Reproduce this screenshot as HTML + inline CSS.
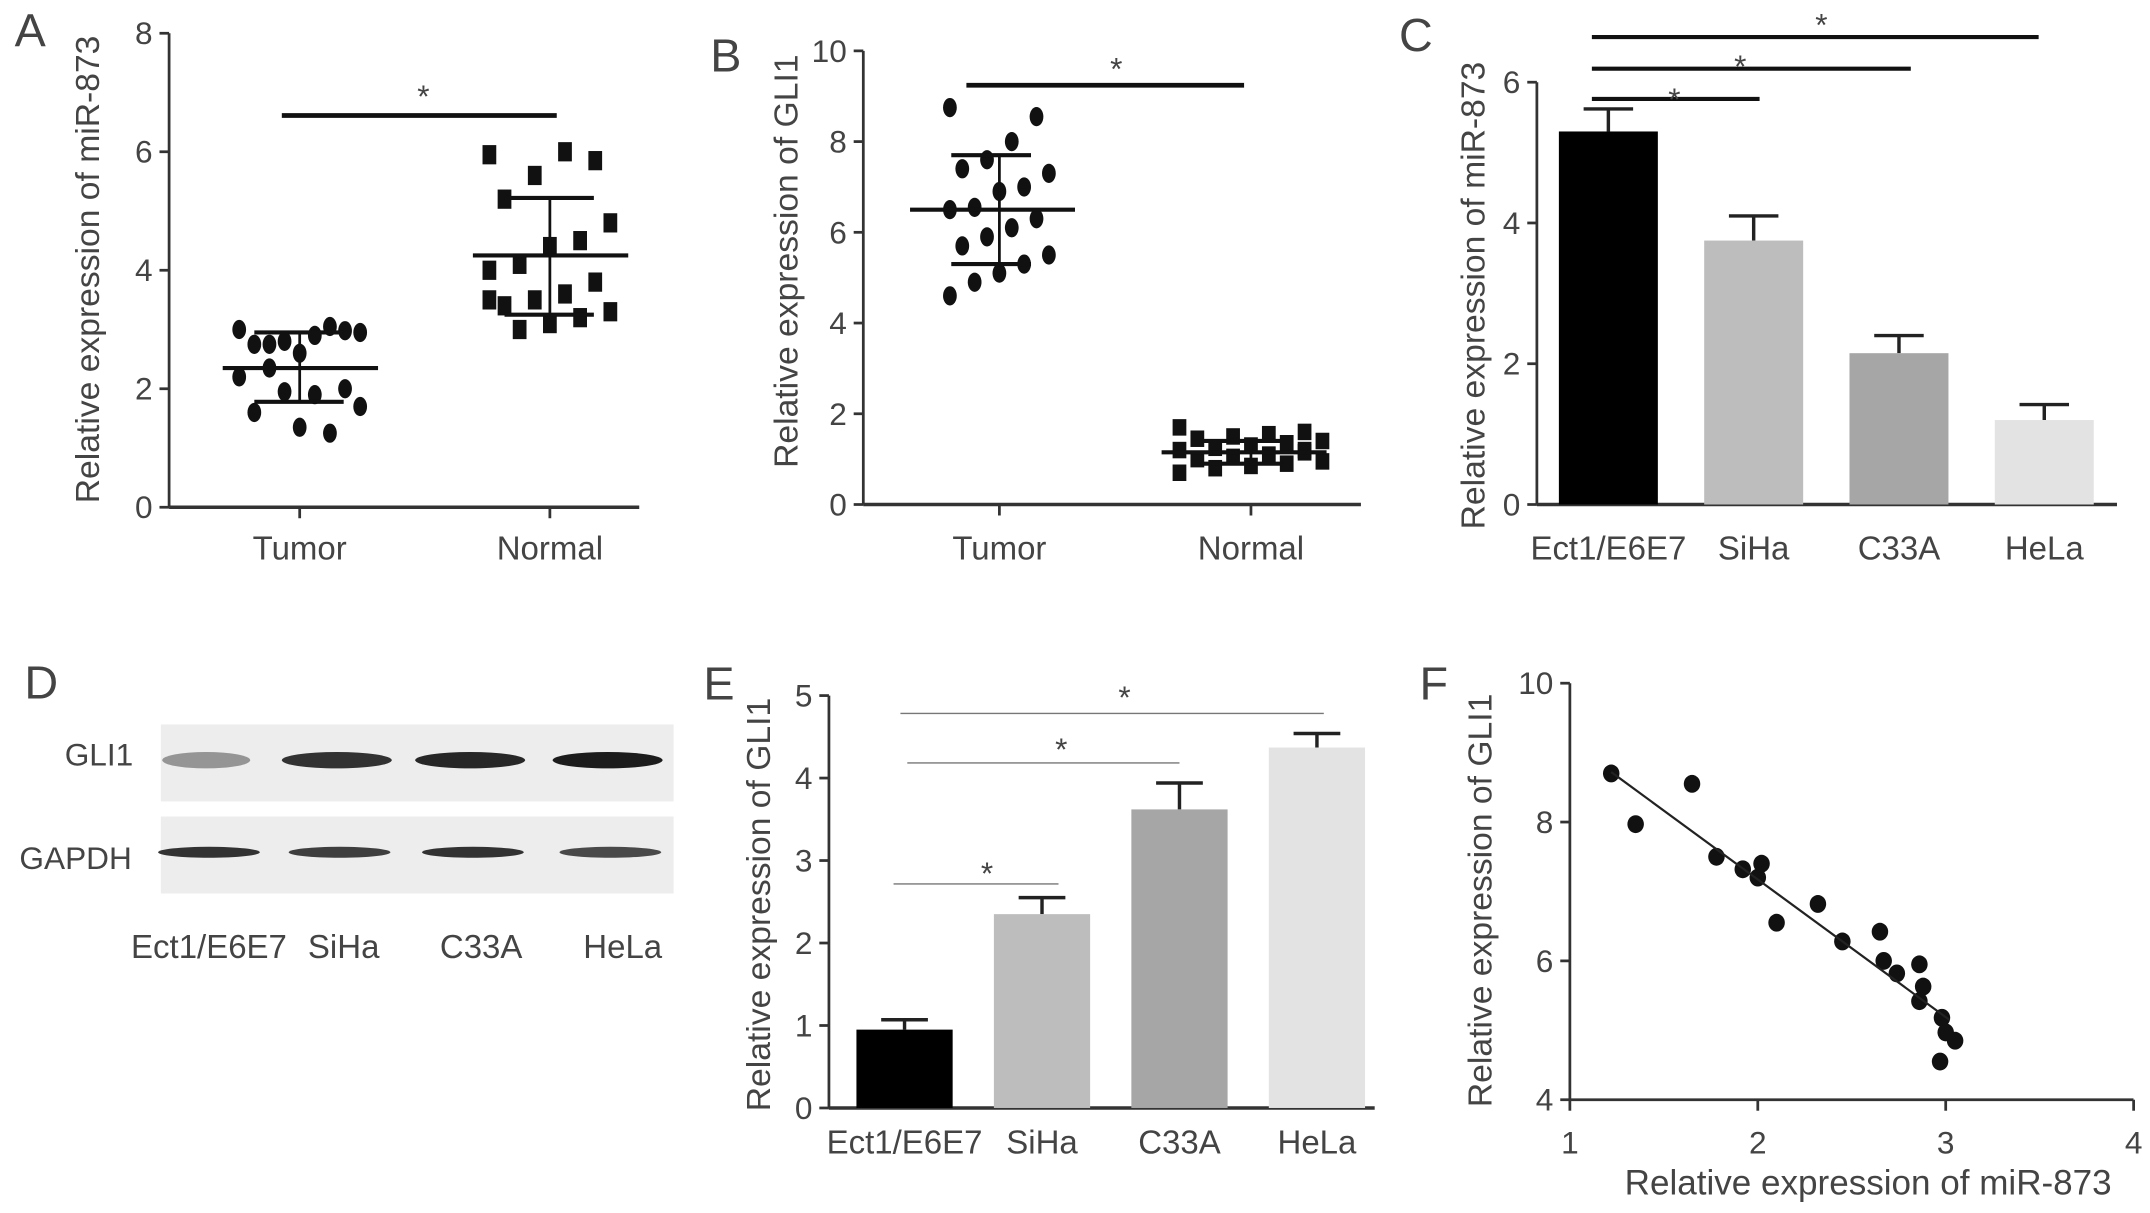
<!DOCTYPE html>
<html><head><meta charset="utf-8">
<style>html,body{margin:0;padding:0;background:#fff}svg{display:block}text{font-family:"Liberation Sans",sans-serif;fill:#444}</style>
</head><body>
<svg id="fig" width="2150" height="1213" viewBox="0 0 1564 882.4" xmlns="http://www.w3.org/2000/svg"></svg>
<script>
// ---- data ----
const aCats=["Tumor","Normal"];
const aTumor=[3.0,2.98,2.9,2.8,2.75,2.95,3.05,2.6,2.35,2.2,2.0,1.9,1.95,1.6,1.7,1.25,1.35,2.75];
const aNormal=[5.95,5.85,6.0,5.6,5.2,4.8,4.5,4.4,4.1,4.0,3.8,3.6,3.5,3.4,3.3,3.2,3.1,3.0,3.5];
const aMean=[2.35,4.25];const aSdLo=[1.78,3.25];const aSdHi=[2.95,5.22];
const aTicks=[0,2,4,6,8];
const bTumor=[8.75,8.55,8.0,7.6,7.4,7.3,7.0,6.9,6.55,6.5,6.3,6.1,5.9,5.7,5.5,5.3,5.1,4.9,4.6];
const bNormal=[1.7,1.6,1.55,1.5,1.45,1.4,1.35,1.3,1.25,1.2,1.15,1.1,1.05,1.0,0.95,0.9,0.85,0.8,0.7,1.2];
const bMean=[6.5,1.15];const bSdLo=[5.3,0.9];const bSdHi=[7.7,1.4];
const bTicks=[0,2,4,6,8,10];
const cCats=["Ect1/E6E7","SiHa","C33A","HeLa"];
const cVals=[5.3,3.75,2.15,1.2];const cErr=[0.32,0.35,0.25,0.22];
const cTicks=[0,2,4,6];
const eVals=[0.95,2.35,3.62,4.37];const eErr=[0.12,0.2,0.32,0.17];
const eTicks=[0,1,2,3,4,5];
const fX=[1.22,1.35,1.65,1.78,1.92,2.0,2.02,2.1,2.32,2.45,2.65,2.67,2.74,2.86,2.88,2.86,2.98,3.0,3.05,2.97];
const fY=[8.7,7.97,8.55,7.5,7.32,7.2,7.4,6.55,6.82,6.28,6.42,6.0,5.82,5.95,5.63,5.42,5.18,4.97,4.85,4.55];
const fFitX=[1.22,3.02];const fFitY=[8.72,5.15];
const fXTicks=[1,2,3,4];const fYTicks=[4,6,8,10];
const barColors=["#000","#bdbdbd","#a6a6a6","#e3e3e3"];

const svg=document.getElementById('fig');
const NS="http://www.w3.org/2000/svg";
function mk(tag,at,txt,parent){const e=document.createElementNS(NS,tag);for(const k in at)e.setAttribute(k,at[k]);if(txt!==undefined)e.textContent=txt;(parent||svg).appendChild(e);return e;}
function line(x1,y1,x2,y2,w,c,name){const e=mk('line',{x1,y1,x2,y2,stroke:c||'#222','stroke-width':w||2});

return e;}
function txt(x,y,s,size,anchor,name,rot){const at={x,y,'font-size':size,'text-anchor':anchor||'middle'};if(rot)at.transform=`rotate(-90 ${x} ${y})`;const e=mk('text',at,s);

return e;}
function yaxis(x,yS,ticks,name){ticks.forEach(t=>{line(x-7,yS(t),x,yS(t),2,'#333',name+'-tick');txt(x-12,yS(t)+8,String(t),23,'end',name+'-tick-label');});line(x,yS(ticks[ticks.length-1]),x,yS(ticks[0]),2,'#333',name);}

// ---- Panel A ----
txt(22,34,"A",34,'middle','panel-label-a');
{const yS=v=>369-v*43.1;const xS=i=>[218,400][i];
yaxis(123,yS,aTicks,'a-y-axis');line(123,369,465,369,2.5,'#333','a-x-axis');
aCats.forEach((c,i)=>{line(xS(i),369,xS(i),377,2,'#333','a-x-tick');txt(xS(i),407,c,24,'middle','a-x-label');});
txt(72,196,"Relative expression of miR-873",24.5,'middle','a-y-axis-title',true);
[aTumor,aNormal].forEach((arr,g)=>{arr.forEach((v,i)=>{const dx=((i*7)%9-4)*11;let e;
if(g===0){e=mk('ellipse',{cx:xS(g)+dx,cy:yS(v),rx:5,ry:7,fill:'#111'});}else{e=mk('rect',{x:xS(g)+dx-5,y:yS(v)-7,width:10,height:14,fill:'#111'});}

});
line(xS(g)-56,yS(aMean[g]),xS(g)+57,yS(aMean[g]),3,'#111','a-mean-line');
line(xS(g)-33,yS(aSdLo[g]),xS(g)+32,yS(aSdLo[g]),3,'#111','a-sd-cap');
line(xS(g)-33,yS(aSdHi[g]),xS(g)+32,yS(aSdHi[g]),3,'#111','a-sd-cap');
line(xS(g),yS(aSdLo[g]),xS(g),yS(aSdHi[g]),2,'#111','a-sd-bar');});
line(205,84,405,84,3.5,'#111','a-significance-line');txt(308,78,"*",23,'middle','a-significance-star');}

// ---- Panel B ----
txt(528,52,"B",34,'middle','panel-label-b');
{const yS=v=>367-v*33;const xS=i=>[727,910][i];
yaxis(628,yS,bTicks,'b-y-axis');line(628,367,990,367,2.5,'#333','b-x-axis');
aCats.forEach((c,i)=>{line(xS(i),367,xS(i),375,2,'#333','b-x-tick');txt(xS(i),407,c,24,'middle','b-x-label');});
txt(580,190,"Relative expression of GLI1",24.5,'middle','b-y-axis-title',true);
[bTumor,bNormal].forEach((arr,g)=>{arr.forEach((v,i)=>{const dx=((i*7)%9-4)*(g===0?9:13);let e;
if(g===0){e=mk('ellipse',{cx:xS(g)+dx,cy:yS(v),rx:5,ry:7,fill:'#111'});}else{e=mk('rect',{x:xS(g)+dx-5,y:yS(v)-6,width:10,height:12,fill:'#111'});}

});
line(xS(g)-65,yS(bMean[g]),xS(g)+55,yS(bMean[g]),3,'#111','b-mean-line');
line(xS(g)-35,yS(bSdLo[g]),xS(g)+23,yS(bSdLo[g]),3,'#111','b-sd-cap');
line(xS(g)-35,yS(bSdHi[g]),xS(g)+23,yS(bSdHi[g]),3,'#111','b-sd-cap');
line(xS(g),yS(bSdLo[g]),xS(g),yS(bSdHi[g]),2,'#111','b-sd-bar');});
line(703,62,905,62,3.5,'#111','b-significance-line');txt(812,58,"*",23,'middle','b-significance-star');}

// ---- Panel C ----
txt(1030,37,"C",34,'middle','panel-label-c');
{const yS=v=>367-v*51.2;const xS=i=>1170+i*105.7;
yaxis(1118,yS,cTicks,'c-y-axis');line(1118,367,1540,367,2.5,'#333','c-x-axis');
txt(1080,215,"Relative expression of miR-873",24.5,'middle','c-y-axis-title',true);
cVals.forEach((v,i)=>{line(xS(i),yS(v),xS(i),yS(v+cErr[i]),2.5,'#222','c-error-bar');line(xS(i)-18,yS(v+cErr[i]),xS(i)+18,yS(v+cErr[i]),2.5,'#222','c-error-cap');
const r=mk('rect',{x:xS(i)-36,y:yS(v),width:72,height:yS(0)-yS(v),fill:barColors[i]});


txt(xS(i),407,cCats[i],24,'middle','c-x-label');});
line(1158,72,1280,72,3,'#111','c-significance-line');txt(1218,80,"*",23,'middle','c-significance-star');
line(1158,50,1390,50,3,'#111','c-significance-line');txt(1266,56,"*",23,'middle','c-significance-star');
line(1158,27,1483,27,3,'#111','c-significance-line');txt(1325,26,"*",23,'middle','c-significance-star');}

// ---- Panel D (western blot) ----
txt(30,508,"D",34,'middle','panel-label-d');
{const bandX=[150,245,342,442];const g1=[0.4,0.85,0.9,0.95];const gp=[0.85,0.8,0.85,0.75];
const r1=mk('rect',{x:117,y:527,width:373,height:56,fill:'#ededed'});
const r2=mk('rect',{x:117,y:594,width:373,height:56,fill:'#ededed'});
bandX.forEach((x,i)=>{const b=mk('ellipse',{cx:x,cy:553,rx:i===0?32:40,ry:6,fill:'#111','fill-opacity':g1[i]});


const c=mk('ellipse',{cx:x+2,cy:620,rx:37,ry:4,fill:'#111','fill-opacity':gp[i]});


txt(x+[2,5,8,11][i],697,cCats[i],24,'middle','blot-lane-label');});
txt(72,557,"GLI1",23,'middle','blot-gli1-label');txt(55,632,"GAPDH",23,'middle','blot-gapdh-label');}

// ---- Panel E ----
txt(523,509,"E",34,'middle','panel-label-e');
{const yS=v=>806-v*60;const xS=i=>658+i*100;
yaxis(603,yS,eTicks,'e-y-axis');line(603,806,1000,806,2.5,'#333','e-x-axis');
txt(560,658,"Relative expression of GLI1",24.5,'middle','e-y-axis-title',true);
eVals.forEach((v,i)=>{line(xS(i),yS(v),xS(i),yS(v+eErr[i]),2.5,'#222','e-error-bar');line(xS(i)-17,yS(v+eErr[i]),xS(i)+17,yS(v+eErr[i]),2.5,'#222','e-error-cap');
const r=mk('rect',{x:xS(i)-35,y:yS(v),width:70,height:yS(0)-yS(v),fill:barColors[i]});


txt(xS(i),839,cCats[i],24,'middle','e-x-label');});
line(650,643,770,643,1,'#777','e-significance-line');txt(718,643,"*",23,'middle','e-significance-star');
line(660,555,858,555,1,'#777','e-significance-line');txt(772,553,"*",23,'middle','e-significance-star');
line(655,519,963,519,1,'#777','e-significance-line');txt(818,515,"*",23,'middle','e-significance-star');}

// ---- Panel F ----
txt(1043,509,"F",34,'middle','panel-label-f');
{const xS=v=>1142+(v-1)*136.7;const yS=v=>800-(v-4)*50.5;
fYTicks.forEach(t=>{line(1135,yS(t),1142,yS(t),2,'#333','f-y-tick');txt(1130,yS(t)+8,String(t),23,'end','f-y-tick-label');});
line(1142,yS(10),1142,800,2,'#333','f-y-axis');
fXTicks.forEach(t=>{line(xS(t),800,xS(t),808,2,'#333','f-x-tick');txt(xS(t),839,String(t),23,'middle','f-x-tick-label');});
line(1142,800,1552,800,2,'#333','f-x-axis');
txt(1085,655,"Relative expression of GLI1",24.5,'middle','f-y-axis-title',true);
txt(1359,869,"Relative expression of miR-873",25.5,'middle','f-x-axis-title');
fX.forEach((x,i)=>{const c=mk('ellipse',{cx:xS(x),cy:yS(fY[i]),rx:6,ry:6.5,fill:'#111'});

});
line(xS(fFitX[0]),yS(fFitY[0]),xS(fFitX[1]),yS(fFitY[1]),1.6,'#222','f-regression-line');}
</script>
</body></html>
